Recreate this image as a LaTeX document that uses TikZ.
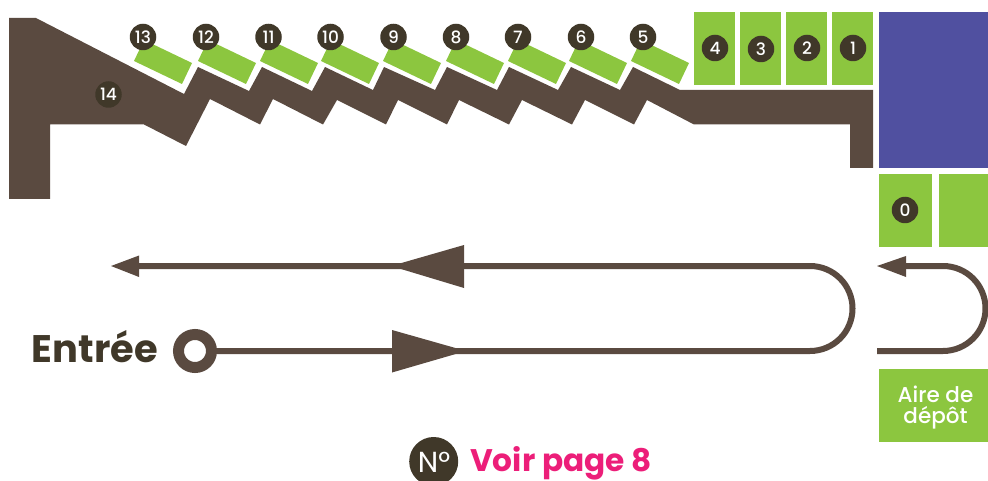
\documentclass[tikz,border=0pt]{standalone}
\usepackage{fontspec}
\setmainfont{Poppins}
\newfontfamily\medfont{Poppins Medium}
\definecolor{wallbrown}{HTML}{5A4A40}
\definecolor{leaf}{HTML}{8CC63F}
\definecolor{violetblue}{HTML}{5050A0}
\definecolor{dotdark}{HTML}{403829}
\definecolor{hotpink}{HTML}{EC1E79}
\tikzset{
  numdot/.style={circle,fill=dotdark,text=white,minimum size=26.5pt,inner sep=0pt,font=\medfont\fontsize{17}{17}\selectfont},
  slot/.style={fill=leaf},
  route/.style={draw=wallbrown,line width=6pt},
  tipfill/.style={fill=wallbrown},
}
\begin{document}
\begin{tikzpicture}[x=1pt,y=-1pt]
\path[use as bounding box] (0,0) rectangle (988,481);
\clip (0,0) rectangle (988,481);
% wall
\fill[wallbrown] (9,18) -- (36,18) -- (184,94) -- (198,67) -- (249,91) -- (262,67) -- (312,91) -- (325,67)
 -- (373,90) -- (384,67) -- (435,90) -- (447,67) -- (497,90) -- (509,67) -- (558,90) -- (571,67) -- (620,90) -- (633,67)
 -- (680,90) -- (873,90) -- (873,168) -- (850,168) -- (850,124.5) -- (694,124.5) -- (647,100) -- (634,124.5)
 -- (585,100) -- (572,124.5) -- (522,100) -- (509,124.5) -- (459,100) -- (447,124.5) -- (398,100) -- (386,124.5)
 -- (337,100) -- (323,124.5) -- (273,99) -- (260,124.5) -- (210,99) -- (186,146) -- (144,124.5) -- (50,124.5) -- (50,199) -- (9,199) -- cycle;
% tilted slots
\foreach \l in {134,198,260,321,383,446,508,569,631}
  \fill[slot] (\l,61) -- (\l+10,40) -- (\l+58,63) -- (\l+48,84) -- cycle;
% upright slots
\fill[slot] (694,12) rectangle (735,85);
\fill[slot] (740,12) rectangle (781,85);
\fill[slot] (786,12) rectangle (827,85);
\fill[slot] (832,12) rectangle (873,85);
\fill[violetblue] (879,12) rectangle (988,168);
\fill[slot] (879,174) rectangle (932,247);
\fill[slot] (939,174) rectangle (988,247);
\fill[slot] (879,369) rectangle (988,442);
\node[text=white,align=center,font=\medfont\fontsize{21.5}{21}\selectfont] (aire) at (935.5,407.5) {Aire de\\dépôt};
% number dots
\node[numdot] (n13) at (143,37) {13};
\node[numdot] (n12) at (206,37) {12};
\node[numdot] (n11) at (268.5,37) {11};
\node[numdot] (n10) at (330.5,37) {10};
\node[numdot] (n9) at (393.5,37) {9};
\node[numdot] (n8) at (456,37) {8};
\node[numdot] (n7) at (518,37) {7};
\node[numdot] (n6) at (581,37) {6};
\node[numdot] (n5) at (643,37) {5};
\node[numdot] (n4) at (715,48) {4};
\node[numdot] (n3) at (761,49) {3};
\node[numdot] (n2) at (807,48) {2};
\node[numdot] (n1) at (853,48) {1};
\node[numdot] (n0) at (905,210) {0};
\node[numdot] (n14) at (108.5,94.5) {14};
% route
\node[circle,draw=wallbrown,line width=11pt,fill=white,minimum size=33pt,inner sep=0pt] (ring) at (195,351) {};
\coordinate (lowend) at (810,351);
\coordinate (topend) at (130,266);
\draw[route] (ring.east) -- (lowend) arc[start angle=90,end angle=-90,radius=42.5] -- (topend);
\coordinate (loopstart) at (877,351);
\coordinate (loopbot) at (943,351);
\coordinate (loopend) at (900,266);
\draw[route] (loopstart) -- (loopbot) arc[start angle=90,end angle=-90,radius=42.5] -- (loopend);
% arrowheads
\fill[tipfill] (111,266) -- (139,255.5) -- (139,277) -- cycle;
\fill[tipfill] (391,266) -- (464,245) -- (464,288) -- cycle;
\fill[tipfill] (466,351) -- (392,330) -- (392,372.5) -- cycle;
\fill[tipfill] (877,266) -- (906,256) -- (906,277) -- cycle;
% labels
\node[anchor=east,text=dotdark,inner sep=0pt,font=\fontsize{38.4}{38}\selectfont\bfseries] (entree) at (158,347) {Entrée};
\node[circle,fill=dotdark,minimum size=49pt,inner sep=0pt] (nsym) at (433.7,461.5) {};
\node[text=white,inner sep=0pt,font=\fontsize{29}{29}\selectfont] (nlabel) at (434,462) {N°};
\node[anchor=west,text=hotpink,inner sep=0pt,font=\fontsize{31.2}{31}\selectfont\bfseries] (voir) at (470,463) {Voir page 8};
\end{tikzpicture}
\end{document}
